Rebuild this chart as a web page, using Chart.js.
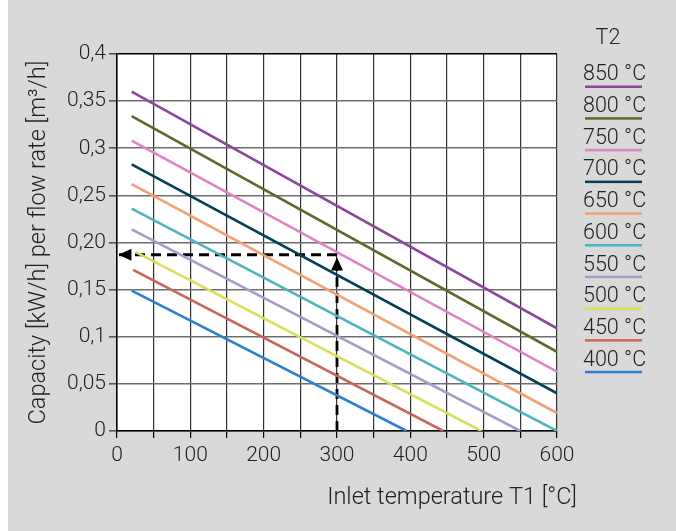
<!DOCTYPE html>
<html>
<head>
<meta charset="utf-8">
<script src="https://cdn.jsdelivr.net/npm/chart.js@4.4.0/dist/chart.umd.min.js"></script>
<style>
  html, body { margin: 0; padding: 0; background: #fff; }
  #wrap { position: absolute; left: 8px; top: 0; width: 668px; height: 531px; background: #d9d9d9; }
</style>
</head>
<body>
<div id="wrap"><canvas id="chart" width="668" height="531"></canvas></div>
<script>
// T2 curves: capacity vs inlet temperature T1
const t2Labels = ['850 °C', '800 °C', '750 °C', '700 °C', '650 °C', '600 °C', '550 °C', '500 °C', '450 °C', '400 °C'];
const t2Colors = ['#8a479c', '#5c6a2c', '#e083c3', '#033f55', '#f0a274', '#4db5bf', '#a89bc6', '#d9df5a', '#c9655b', '#2b80d0'];
const startT1 = [20, 20, 20, 20, 20, 20, 20, 25, 22, 20];
const startCap = [0.360, 0.334, 0.308, 0.283, 0.262, 0.236, 0.214, 0.190, 0.171, 0.149];
const endT1 = [600, 600, 600, 600, 600, 600, 550, 497, 445, 395];
const endCap = [0.109, 0.084, 0.063, 0.040, 0.019, 0, 0, 0, 0, 0];

// example reading: T1 = 300 °C -> ~0,187
const guideUp = [[300, 0], [300, 0.184]];
const guideLeft = [[300, 0.187], [2, 0.187]];

const yTickLabels = ['0', '0,05', '0,1', '0,15', '0,20', '0,25', '0,3', '0,35', '0,4'];
const xTickLabels = ['0', '100', '200', '300', '400', '500', '600'];

const FONT = 'Roboto, "Liberation Sans", Arial, sans-serif';
const TXT = '#222';

const datasets = t2Labels.map((lab, i) => ({
  label: lab,
  data: [{ x: startT1[i], y: startCap[i] }, { x: endT1[i], y: endCap[i] }],
  borderColor: t2Colors[i],
  borderWidth: 2.6,
  pointRadius: 0,
  fill: false
}));

[guideUp, guideLeft].forEach((g, i) => {
  datasets.push({
    label: 'guide' + i,
    guide: true,
    data: g.map(p => ({ x: p[0], y: p[1] })),
    borderColor: '#000',
    borderWidth: 2.8,
    borderDash: [10, 6],
    pointRadius: 0,
    fill: false
  });
});

const decor = {
  id: 'decor',
  beforeDraw(chart) {
    const { ctx, chartArea: a } = chart;
    ctx.save();
    ctx.fillStyle = '#fff';
    ctx.fillRect(a.left, a.top, a.right - a.left, a.bottom - a.top);
    ctx.restore();
  },
  afterDatasetsDraw(chart) {
    const ctx = chart.ctx;
    chart.data.datasets.forEach((ds, i) => {
      if (!ds.guide) return;
      const pts = chart.getDatasetMeta(i).data;
      const p1 = pts[pts.length - 2], p2 = pts[pts.length - 1];
      const ang = Math.atan2(p2.y - p1.y, p2.x - p1.x);
      ctx.save();
      ctx.translate(p2.x, p2.y);
      ctx.rotate(ang);
      ctx.fillStyle = '#000';
      ctx.beginPath();
      ctx.moveTo(0, 0);
      ctx.lineTo(-13, -6);
      ctx.lineTo(-13, 6);
      ctx.closePath();
      ctx.fill();
      ctx.restore();
    });
  },
  afterDraw(chart) {
    const { ctx, chartArea: a } = chart;
    ctx.save();
    ctx.fillStyle = TXT;
    ctx.font = '300 23.5px ' + FONT;
    // x axis title
    ctx.textAlign = 'right';
    ctx.textBaseline = 'middle';
    ctx.fillText('Inlet temperature T1 [°C]', 569, 498);
    // y axis title
    ctx.save();
    ctx.translate(31, (a.top + a.bottom) / 2);
    ctx.rotate(-Math.PI / 2);
    ctx.textAlign = 'center';
    ctx.fillText('Capacity [kW/h] per flow rate [m³/h]', 0, 0);
    ctx.restore();
    // legend
    ctx.font = '300 21.5px ' + FONT;
    ctx.textAlign = 'center';
    ctx.fillText('T2', 600, 39);
    ctx.textAlign = 'left';
    t2Labels.forEach((lab, i) => {
      const y = 75 + i * 31.7;
      ctx.fillStyle = TXT;
      ctx.fillText(lab, 575, y);
      ctx.fillStyle = t2Colors[i];
      ctx.fillRect(577, y + 10.5, 57, 2.5);
    });
    ctx.restore();
  }
};

new Chart(document.getElementById('chart'), {
  type: 'line',
  data: { datasets },
  plugins: [decor],
  options: {
    responsive: false,
    animation: false,
    layout: { padding: { left: 0, right: 119, top: 54, bottom: 0 } },
    plugins: { legend: { display: false }, tooltip: { enabled: false } },
    scales: {
      x: {
        type: 'linear',
        min: 0, max: 600,
        afterFit(s) { s.height = 100; },
        border: { color: '#000', width: 1.5 },
        grid: { color: '#333', lineWidth: 1.2, tickLength: 7, tickColor: '#000' },
        ticks: {
          stepSize: 50,
          autoSkip: false,
          maxRotation: 0,
          padding: 5,
          color: TXT,
          font: { family: FONT, size: 21, weight: '300' },
          callback: v => (v % 100 === 0 ? xTickLabels[v / 100] : '')
        }
      },
      y: {
        min: 0, max: 0.4,
        afterFit(s) { s.width = 109; },
        border: { color: '#000', width: 1.5 },
        grid: {
          color: ctx => (ctx.tick && ctx.tick.value >= 0.399 ? '#000' : '#6e6e6e'),
          lineWidth: 1.6, tickLength: 8, tickColor: '#555'
        },
        ticks: {
          stepSize: 0.05,
          padding: 3,
          color: TXT,
          font: { family: FONT, size: 21, weight: '300' },
          callback: v => yTickLabels[Math.round(v / 0.05)]
        }
      }
    }
  }
});
</script>
</body>
</html>
